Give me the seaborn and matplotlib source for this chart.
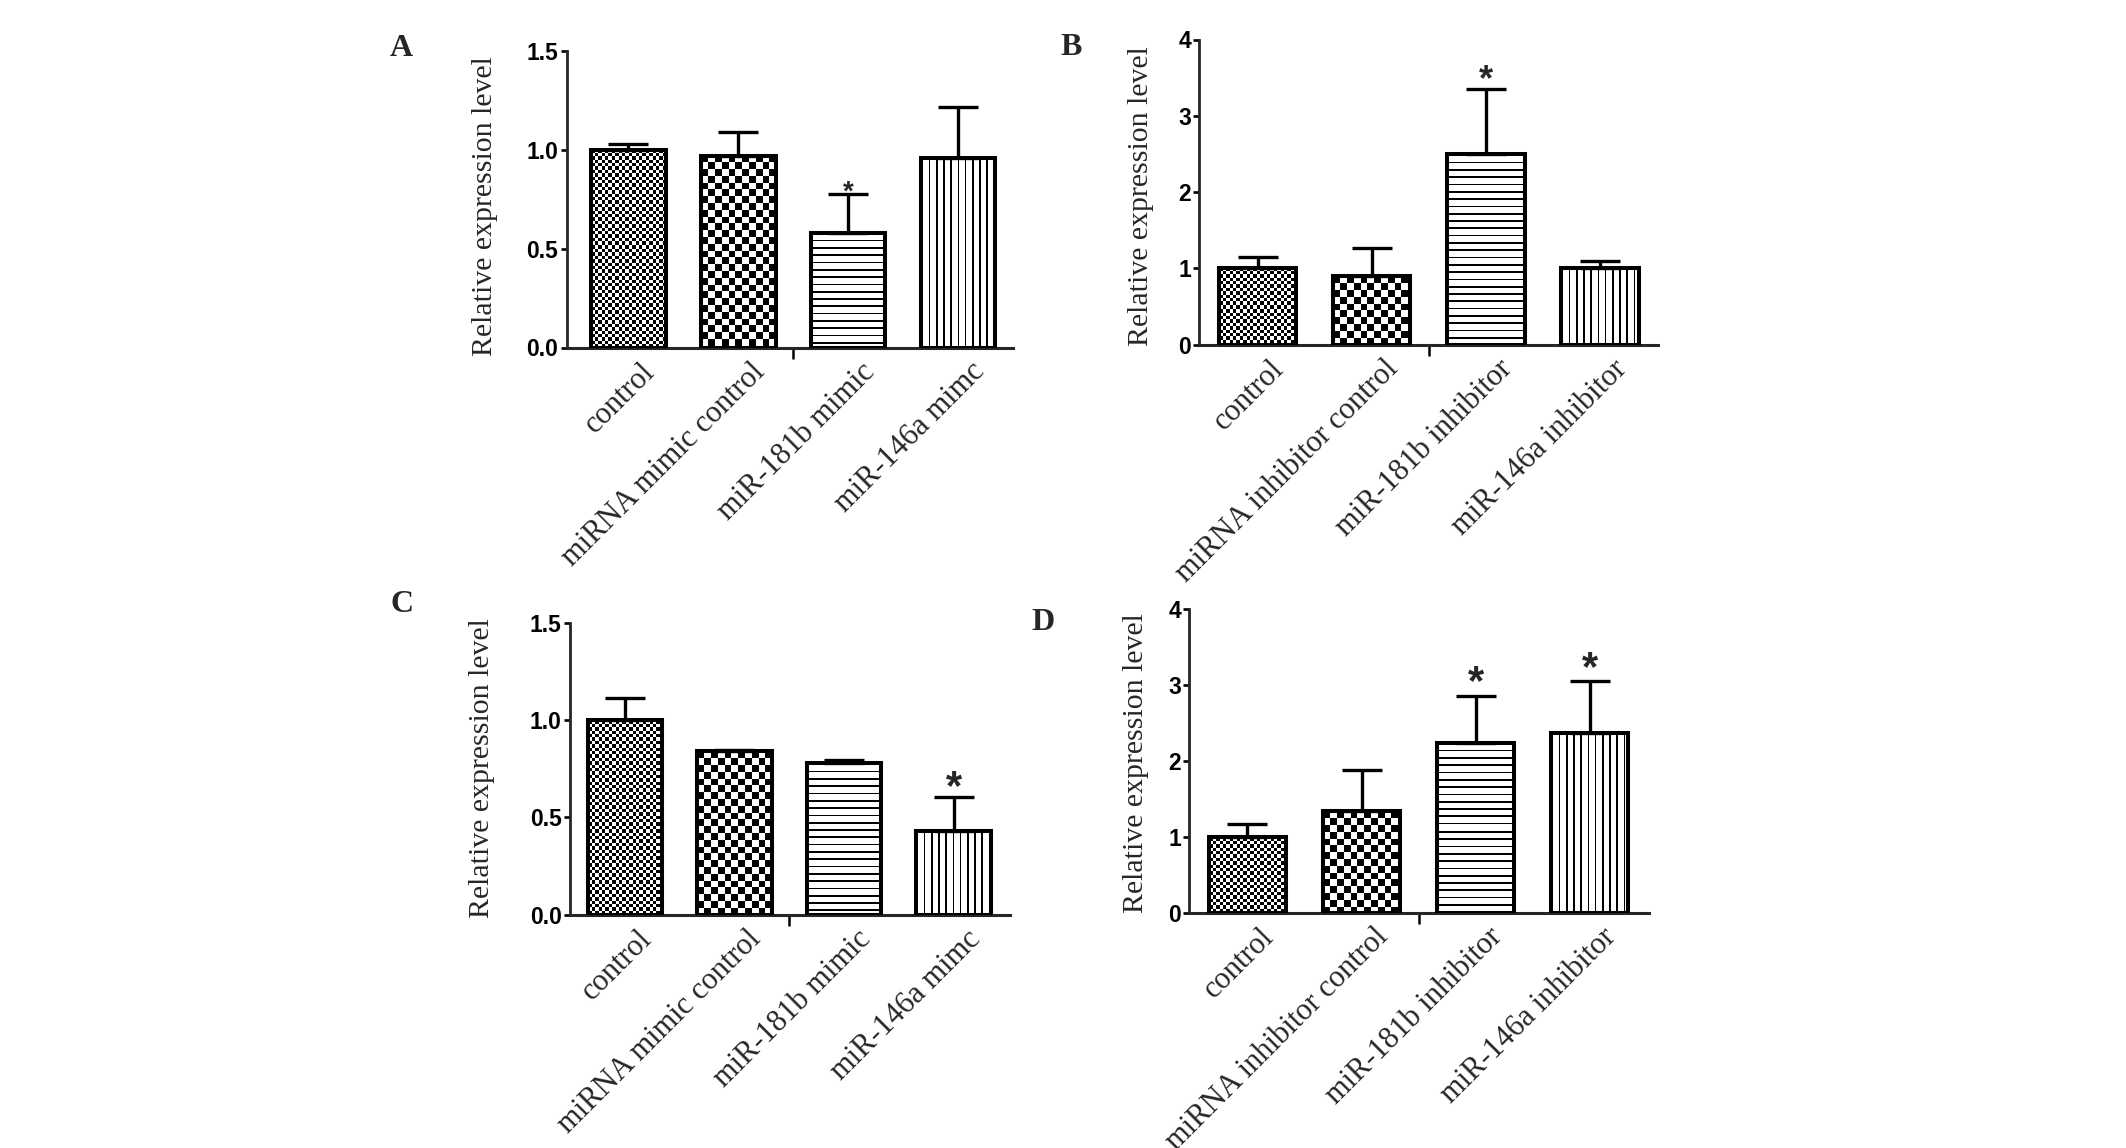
import numpy as np
import pandas as pd
import matplotlib
matplotlib.use("Agg")
import matplotlib.pyplot as plt
import matplotlib.transforms as mtransforms
import seaborn as sns

# ---------------- data ----------------
cats_mimic = ["control", "miRNA mimic control", "miR-181b mimic", "miR-146a mimc"]
cats_inhib = ["control", "miRNA inhibitor control", "miR-181b inhibitor", "miR-146a inhibitor"]

a_mean = [1.00, 0.97, 0.58, 0.96]
a_err = [0.03, 0.12, 0.195, 0.26]
a_sig = [False, False, True, False]

b_mean = [1.01, 0.90, 2.50, 1.00]
b_err = [0.14, 0.36, 0.85, 0.10]
b_sig = [False, False, True, False]

c_mean = [1.00, 0.84, 0.78, 0.43]
c_err = [0.115, 0.008, 0.015, 0.175]
c_sig = [False, False, False, True]

d_mean = [1.00, 1.34, 2.24, 2.37]
d_err = [0.17, 0.54, 0.62, 0.68]
d_sig = [False, False, True, True]

mimic_ticks = [0.0, 0.5, 1.0, 1.5]
mimic_ticklabels = ["0.0", "0.5", "1.0", "1.5"]
inhib_ticks = [0, 1, 2, 3, 4]
inhib_ticklabels = ["0", "1", "2", "3", "4"]

ylabel = "Relative expression level"
patterns = ["fine_checker", "coarse_checker", "hlines", "vlines"]

# ---------------- style ----------------
sns.set_theme(style="ticks")
plt.rcParams["font.family"] = ["Liberation Serif", "DejaVu Serif"]
plt.rcParams["axes.linewidth"] = 2.0

W, H, DPI = 2126, 1148, 100
fig = plt.figure(figsize=(W / DPI, H / DPI), dpi=DPI)
fig.patch.set_facecolor("white")


def px_rect(left, right, top, bottom):
    return [left / W, 1 - bottom / H, (right - left) / W, (bottom - top) / H]


def texture(kind, w, h):
    i = np.arange(h)[:, None] * np.ones((1, w))   # row from top
    j = np.ones((h, 1)) * np.arange(w)[None, :]
    if kind == "fine_checker":
        s = 3.4
        arr = ((np.floor(i / s) + np.floor(j / s)) % 2)
    elif kind == "coarse_checker":
        s = 6.8
        arr = ((np.floor(i / s) + np.floor(j / s)) % 2)
    elif kind == "hlines":
        arr = ((i % 7.3) >= 1.7).astype(float)
    else:
        arr = ((j % 7.2) >= 1.7).astype(float)
    return arr


def panel(rect, cats, mean, err, sig, ylim, ticks, ticklabels, xlim,
          letter, letter_xy, ylab_xy, star_size, star_off):
    ax = fig.add_axes(rect)
    df = pd.DataFrame({"group": cats, "value": mean})
    sns.barplot(data=df, x="group", y="value", ax=ax, color="white",
                saturation=1, edgecolor="black", linewidth=2.9,
                width=0.68, errorbar=None)
    ax.set_xlim(*xlim)
    ax.set_ylim(*ylim)

    # error bars (upper only)
    ax.errorbar(np.arange(len(cats)), mean,
                yerr=[np.zeros(len(err)), err], fmt="none",
                ecolor="black", elinewidth=2.4, capsize=14.7,
                capthick=2.4, zorder=2.8)

    # pattern fills
    for p, kind in zip(ax.patches, patterns):
        p.set_zorder(3)
        p.set_facecolor("none")
        ext = p.get_window_extent()
        wpx = max(int(round(ext.width)), 1)
        hpx = max(int(round(ext.height)), 1)
        arr = texture(kind, wpx, hpx)
        x0, y0 = p.get_x(), p.get_y()
        im = ax.imshow(arr, cmap="gray", vmin=0, vmax=1,
                       extent=(x0, x0 + p.get_width(), y0, y0 + p.get_height()),
                       origin="upper", interpolation="nearest",
                       aspect="auto", zorder=2)
        im.set_clip_path(p)
    ax.set_xlim(*xlim)
    ax.set_ylim(*ylim)

    # significance stars
    for k, (m, e, s) in enumerate(zip(mean, err, sig)):
        if s:
            ax.annotate("*", xy=(k, m + e), xytext=(0, star_off),
                        textcoords="offset points", ha="center",
                        va="baseline", fontsize=star_size,
                        fontweight="bold", family=["Liberation Sans"],
                        zorder=5, annotation_clip=False, clip_on=False)

    # spines and ticks
    sns.despine(ax=ax)
    ax.spines["left"].set_linewidth(2.0)
    ax.spines["bottom"].set_linewidth(2.2)
    ax.set_yticks(ticks)
    ax.set_yticklabels(ticklabels, fontsize=16.5, fontweight="bold",
                       family=["Liberation Sans"])
    ax.tick_params(axis="y", length=4.5, width=1.9, pad=1.5,
                   direction="out", colors="black")
    ax.set_xticks(range(len(cats)))
    ax.set_xticklabels(cats, rotation=45, ha="right", va="top",
                       rotation_mode="anchor", fontsize=22)
    ax.tick_params(axis="x", which="major", length=0, pad=7)
    ax.set_xticks([1.5], minor=True)
    ax.tick_params(axis="x", which="minor", length=8, width=1.8,
                   direction="out", color="black")
    offset = mtransforms.ScaledTranslation(12 / DPI, 0, fig.dpi_scale_trans)
    for lab in ax.get_xticklabels():
        lab.set_transform(lab.get_transform() + offset)

    ax.set_xlabel("")
    ax.set_ylabel(ylabel, fontsize=21.5, ha="center", va="center")
    ax.yaxis.set_label_coords(*ylab_xy)
    ax.set_facecolor("white")
    ax.grid(False)

    fig.text(letter_xy[0] / W, 1 - letter_xy[1] / H, letter,
             fontsize=23, fontweight="bold", ha="center", va="center",
             family=["Liberation Serif"])
    return ax


panel(px_rect(566.7, 1013, 51.3, 347.5), cats_mimic, a_mean, a_err, a_sig,
      (0, 1.5), mimic_ticks, mimic_ticklabels, (-0.56, 3.5),
      "A", (401.6, 48.5), (-0.183, 0.478), 20, -3.5)

panel(px_rect(1199.4, 1658, 39.5, 344.6), cats_inhib, b_mean, b_err, b_sig,
      (0, 4), inhib_ticks, inhib_ticklabels, (-0.51, 3.51),
      "B", (1071, 47.5), (-0.127, 0.488), 26, -1)

panel(px_rect(570, 1009.6, 622.6, 914.9), cats_mimic, c_mean, c_err, c_sig,
      (0, 1.5), mimic_ticks, mimic_ticklabels, (-0.50, 3.51),
      "C", (401.6, 605), (-0.200, 0.503), 30, -1.5)

panel(px_rect(1189.3, 1649, 609, 913), cats_inhib, d_mean, d_err, d_sig,
      (0, 4), inhib_ticks, inhib_ticklabels, (-0.51, 3.52),
      "D", (1043, 623), (-0.116, 0.493), 30, 1)

fig.savefig("out.png", dpi=DPI, facecolor="white")
